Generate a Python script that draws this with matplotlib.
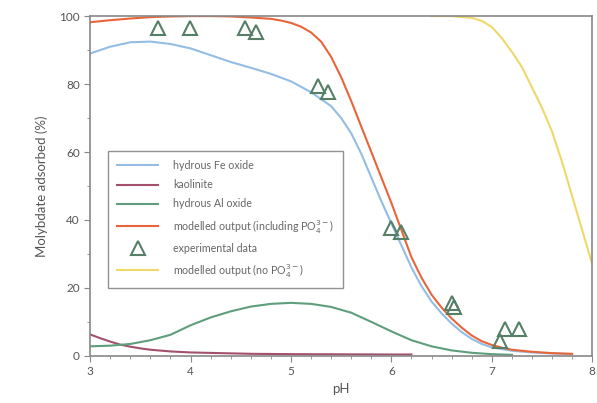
import matplotlib
matplotlib.use("Agg")
import matplotlib.pyplot as plt
from matplotlib.ticker import MultipleLocator

plt.rcParams['font.family'] = ['Lato', 'DejaVu Sans']

# hydrous Fe oxide
fe_ph = [3.0, 3.2, 3.4, 3.6, 3.8, 4.0, 4.2, 4.4, 4.6, 4.8, 5.0, 5.2, 5.4, 5.5, 5.6,
         5.7, 5.8, 5.9, 6.0, 6.1, 6.2, 6.3, 6.4, 6.5, 6.6, 6.7, 6.8, 6.9, 7.0, 7.2,
         7.4, 7.6, 7.8]
fe_ads = [89, 91, 92.3, 92.5, 91.8, 90.5, 88.5, 86.5, 84.8, 83, 80.8, 77.6, 73.5, 70, 65.5,
          59.5, 52.5, 45.5, 39, 32.5, 26, 20.5, 16, 12.5, 9.5, 7, 5, 3.5, 2.5, 1.5,
          1, 0.7, 0.5]

# kaolinite
kao_ph = [3.0, 3.1, 3.2, 3.3, 3.4, 3.5, 3.6, 3.8, 4.0, 4.3, 4.6, 5.0, 5.5, 6.0, 6.2]
kao_ads = [6.3, 5.2, 4.2, 3.3, 2.7, 2.2, 1.8, 1.3, 1.0, 0.8, 0.6, 0.5, 0.45, 0.4, 0.4]

# hydrous Al oxide
al_ph = [3.0, 3.2, 3.4, 3.6, 3.8, 4.0, 4.2, 4.4, 4.6, 4.8, 5.0, 5.2, 5.4, 5.6, 5.8,
         6.0, 6.2, 6.4, 6.6, 6.8, 7.0, 7.2]
al_ads = [2.8, 3.0, 3.5, 4.6, 6.2, 9.0, 11.3, 13.1, 14.5, 15.3, 15.6, 15.3, 14.4, 12.7, 10,
          7.2, 4.6, 2.8, 1.6, 0.9, 0.5, 0.3]

# modelled output (including PO4)
mod_ph = [3.0, 3.2, 3.4, 3.6, 3.8, 4.0, 4.2, 4.4, 4.6, 4.8, 4.9, 5.0, 5.1, 5.2, 5.3,
          5.4, 5.5, 5.6, 5.7, 5.8, 5.9, 6.0, 6.1, 6.2, 6.3, 6.4, 6.5, 6.6, 6.7, 6.8,
          6.9, 7.0, 7.1, 7.2, 7.4, 7.6, 7.8]
mod_ads = [98.2, 98.8, 99.3, 99.7, 99.9, 100, 100, 99.9, 99.6, 99.2, 98.7, 98, 96.9, 95.2, 92.5,
           88, 82, 75, 67.5, 60, 52.5, 45, 37, 29, 23, 18, 14.2, 11, 8.3, 6,
           4.3, 3.2, 2.4, 1.8, 1.2, 0.8, 0.6]

# modelled output (no PO4)
nop_ph = [6.4, 6.6, 6.8, 6.9, 7.0, 7.1, 7.2, 7.3, 7.4, 7.5, 7.6, 7.7, 7.8, 7.9, 8.0]
nop_ads = [100, 100, 99.5, 98.6, 96.8, 93.5, 89.5, 85, 79, 73, 66, 57, 47, 37, 27]

# experimental data
exp_ph = [3.68, 3.99, 4.54, 4.65, 5.27, 5.37, 6.0, 6.1, 6.6, 6.62, 7.08, 7.13, 7.27]
exp_ads = [96.5, 96.5, 96.5, 95.3, 79.4, 77.6, 37.6, 36.5, 15.5, 14.5, 4.5, 8.0, 8.0]

fig = plt.figure(figsize=(5.97, 4.03), dpi=100)
ax = fig.add_axes([0.151, 0.117, 0.841, 0.843])

ax.plot(fe_ph, fe_ads, color="#93bde3", lw=1.5, label="hydrous Fe oxide")
ax.plot(kao_ph, kao_ads, color="#a3506f", lw=1.5, label="kaolinite")
ax.plot(al_ph, al_ads, color="#5e9e7c", lw=1.5, label="hydrous Al oxide")
ax.plot(mod_ph, mod_ads, color="#e8653a", lw=1.5,
        label="modelled output (including PO$_4^{3-}$)")
ax.plot(exp_ph, exp_ads, linestyle="none", marker="^", markersize=10,
        markerfacecolor="none", markeredgecolor="#557f66", markeredgewidth=1.5,
        label="experimental data")
ax.plot(nop_ph, nop_ads, color="#f0d868", lw=1.5,
        label="modelled output (no PO$_4^{3-}$)")

ax.set_xlim(3, 8)
ax.set_ylim(0, 100)
ax.xaxis.set_major_locator(MultipleLocator(1))
ax.xaxis.set_minor_locator(MultipleLocator(0.2))
ax.yaxis.set_major_locator(MultipleLocator(20))
ax.yaxis.set_minor_locator(MultipleLocator(10))

for s in ax.spines.values():
    s.set_color("#888888")
    s.set_linewidth(1.2)
ax.tick_params(which="both", colors="#888888", labelcolor="#555555", labelsize=8.5)
ax.tick_params(which="major", length=4)
ax.tick_params(which="minor", length=2.5)

ax.set_xlabel("pH", color="#555555", fontsize=9.5, labelpad=4)
ax.set_ylabel("Molybdate adsorbed (%)", color="#555555", fontsize=9.5, labelpad=8)

leg = ax.legend(loc="lower left", bbox_to_anchor=(0.036, 0.2), fontsize=7.7,
                frameon=True, fancybox=False, edgecolor="#777777",
                handlelength=3.8, labelspacing=0.76, borderpad=0.85,
                handletextpad=1.4, borderaxespad=0)
leg.get_frame().set_linewidth(1.0)
for t in leg.get_texts():
    t.set_color("#666666")

plt.savefig("out.png", dpi=100)
